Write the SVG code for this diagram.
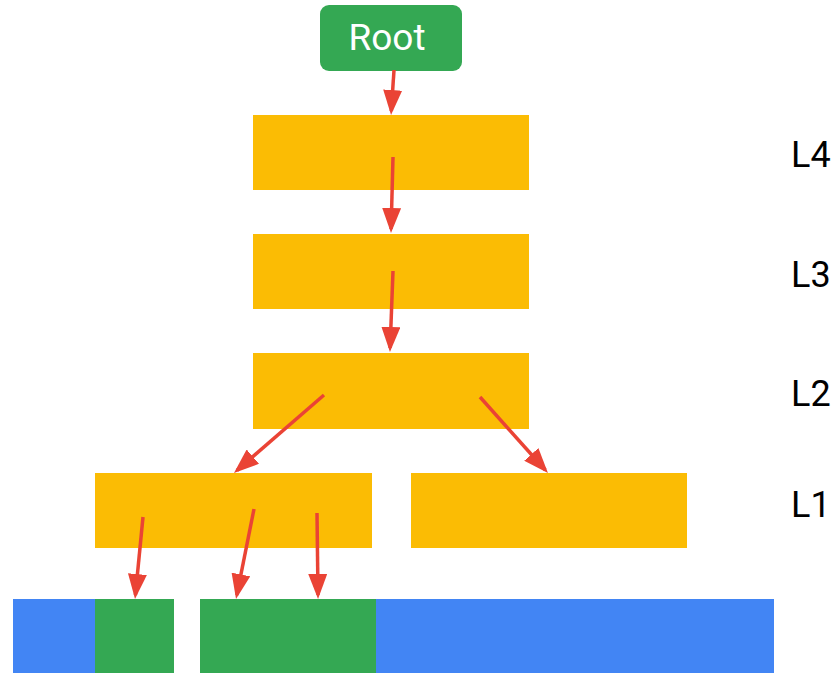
<svg xmlns="http://www.w3.org/2000/svg" width="831" height="673" viewBox="0 0 831 673">
  <style>
    .block { fill: #FBBC04; }
    .used { fill: #34A853; }
    .free { fill: #4285F4; }
    .level { font-family: Roboto, "Liberation Sans", sans-serif; font-size: 36px; fill: #000000; }
    .root-label { font-family: Roboto, "Liberation Sans", sans-serif; font-size: 37px; fill: #FFFFFF; }
    .edge { stroke: #EA4335; stroke-width: 3.5; fill: none; marker-end: url(#head); }
  </style>
  <defs>
    <marker id="head" markerUnits="userSpaceOnUse" markerWidth="25" markerHeight="19" refX="21" refY="9.5" orient="auto">
      <path d="M0,0 L25,9.5 L0,19 Z" fill="#EA4335"/>
    </marker>
  </defs>
  <rect width="831" height="673" fill="#FFFFFF"/>

  <!-- storage strip -->
  <g id="storage">
    <rect class="free" x="13" y="599" width="761" height="74"/>
    <rect class="used" x="95" y="599" width="79" height="74"/>
    <rect x="174" y="599" width="26" height="74" fill="#FFFFFF"/>
    <rect class="used" x="200" y="599" width="176" height="74"/>
  </g>

  <!-- tree nodes -->
  <g id="root">
    <rect x="320" y="5" width="142" height="66" rx="9" fill="#34A853"/>
    <text class="root-label" x="387" y="50" text-anchor="middle">Root</text>
  </g>
  <g id="l4-node"><rect class="block" x="253" y="115" width="276" height="75"/></g>
  <g id="l3-node"><rect class="block" x="253" y="234" width="276" height="75"/></g>
  <g id="l2-node"><rect class="block" x="253" y="353" width="276" height="76"/></g>
  <g id="l1-left"><rect class="block" x="95" y="473" width="277" height="75"/></g>
  <g id="l1-right"><rect class="block" x="411" y="473" width="276" height="75"/></g>

  <!-- level labels -->
  <g id="labels">
    <text class="level" x="791" y="167">L4</text>
    <text class="level" x="791" y="287">L3</text>
    <text class="level" x="791" y="406">L2</text>
    <text class="level" x="791" y="517">L1</text>
  </g>

  <!-- pointers -->
  <g id="connectors">
    <line class="edge" x1="394" y1="70" x2="391.3" y2="111"/>
    <line class="edge" x1="393" y1="157" x2="391.1" y2="229"/>
    <line class="edge" x1="393" y1="271" x2="390.1" y2="348"/>
    <line class="edge" x1="324" y1="395" x2="237" y2="470.4"/>
    <line class="edge" x1="480" y1="397" x2="545.3" y2="470"/>
    <line class="edge" x1="143" y1="517" x2="135.4" y2="595"/>
    <line class="edge" x1="254" y1="509" x2="236.8" y2="595.1"/>
    <line class="edge" x1="317" y1="513" x2="318" y2="595"/>
  </g>
</svg>
